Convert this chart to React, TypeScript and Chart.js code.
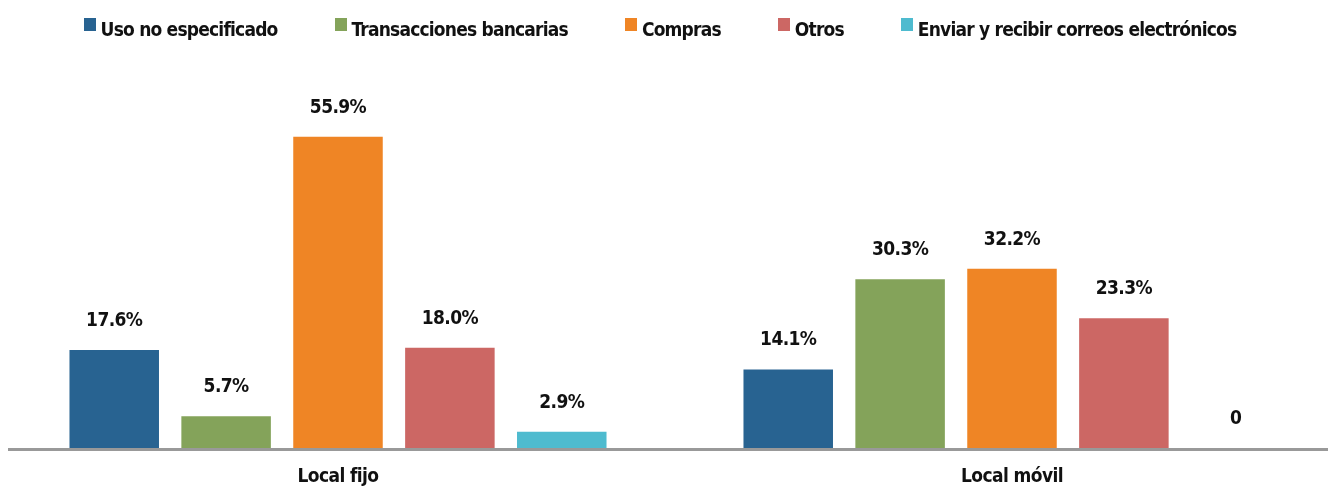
import React, { useEffect, useRef } from "react";
import { Chart, registerables } from "chart.js";

Chart.register(...registerables);

const categories = ["Local fijo", "Local móvil"];
const seriesNames = [
  "Uso no especificado",
  "Transacciones bancarias",
  "Compras",
  "Otros",
  "Enviar y recibir correos electrónicos",
];
const usoNoEspecificado = [17.6, 14.1];
const transacciones = [5.7, 30.3];
const compras = [55.9, 32.2];
const otros = [18.0, 23.3];
const correos = [2.9, 0];
const colors = ["#286391", "#84A35A", "#EF8525", "#CC6764", "#4EBBCF"];

const FAMILY = "'DejaVu Sans', sans-serif";
const CANVAS_LEFT = 1;

const labelPlugin = {
  id: "valueLabels",
  afterDatasetsDraw(chart: any) {
    const ctx = chart.ctx;
    ctx.save();
    ctx.font = `condensed bold 19px ${FAMILY}`;
    (ctx as any).letterSpacing = "-0.6px";
    ctx.fillStyle = "#111111";
    ctx.textAlign = "center";
    ctx.textBaseline = "middle";
    chart.data.datasets.forEach((ds: any, i: number) => {
      const meta = chart.getDatasetMeta(i);
      meta.data.forEach((bar: any, j: number) => {
        const v = ds.data[j];
        const txt = v === 0 ? "0" : v.toFixed(1) + "%";
        ctx.fillText(txt, bar.x, bar.y - 29);
      });
    });
    const xs = chart.scales.x;
    chart.data.labels.forEach((lab: string, k: number) => {
      ctx.fillText(lab, xs.getPixelForValue(k), 477);
    });
    ctx.restore();
  },
};

const axisPlugin = {
  id: "axisLine",
  afterDatasetsDraw(chart: any) {
    const ctx = chart.ctx;
    const y = chart.chartArea.bottom + 1.5;
    ctx.save();
    ctx.strokeStyle = "#999999";
    ctx.lineWidth = 3;
    ctx.beginPath();
    ctx.moveTo(8 - CANVAS_LEFT, y);
    ctx.lineTo(chart.width, y);
    ctx.stroke();
    ctx.restore();
  },
};

export default function App() {
  const ref = useRef<HTMLCanvasElement>(null);
  useEffect(() => {
    if (!ref.current) return;
    const values = [usoNoEspecificado, transacciones, compras, otros, correos];
    const chart = new Chart(ref.current, {
      type: "bar",
      data: {
        labels: categories,
        datasets: seriesNames.map((name, i) => ({
          label: name,
          data: values[i],
          backgroundColor: colors[i],
          borderWidth: 0,
          categoryPercentage: 0.83,
          barPercentage: 0.8,
        })),
      },
      options: {
        animation: false,
        responsive: false,
        maintainAspectRatio: false,
        layout: { padding: { top: 114, bottom: 0, left: 0, right: 0 } },
        plugins: {
          legend: { display: false },
          tooltip: { enabled: false },
        },
        scales: {
          x: {
            grid: { display: false, drawTicks: false },
            border: { display: false },
            ticks: { display: false },
            afterFit(scale: any) {
              scale.height = 43;
            },
          },
          y: {
            display: false,
            min: 0,
            max: 60,
          },
        },
      },
      plugins: [labelPlugin, axisPlugin],
    });
    return () => chart.destroy();
  }, []);

  return (
    <div
      style={{
        position: "absolute",
        left: 0,
        top: 0,
        width: 1328,
        height: 491,
        overflow: "hidden",
        background: "#ffffff",
      }}
    >
      <div
        style={{
          position: "absolute",
          top: 16,
          left: 0,
          width: 1320,
          display: "flex",
          justifyContent: "center",
          gap: 57,
          fontFamily: FAMILY,
          fontStretch: "condensed",
          fontWeight: "bold",
          fontSize: 19,
          letterSpacing: "-0.8px",
          color: "#111111",
          whiteSpace: "nowrap",
          zIndex: 2,
        }}
      >
        {seriesNames.map((n, i) => (
          <div key={n} style={{ display: "flex", alignItems: "flex-start" }}>
            <span
              style={{
                display: "inline-block",
                width: 12,
                height: 13,
                background: colors[i],
                marginTop: 2,
                marginRight: 5,
              }}
            />
            <span style={{ lineHeight: "26px" }}>{n}</span>
          </div>
        ))}
      </div>
      <canvas
        ref={ref}
        width={1348}
        height={491}
        style={{ position: "absolute", left: CANVAS_LEFT, top: 0, width: 1348, height: 491 }}
      />
    </div>
  );
}
